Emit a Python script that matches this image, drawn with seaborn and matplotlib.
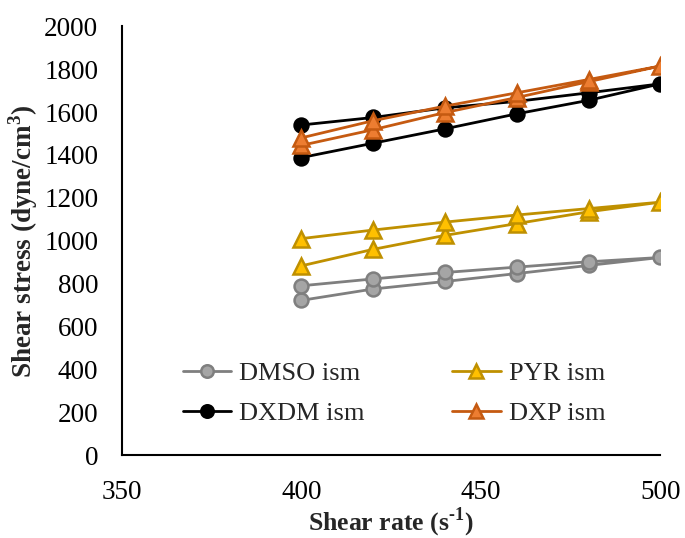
import matplotlib
matplotlib.use("Agg")
import matplotlib.pyplot as plt
import seaborn as sns
import pandas as pd

# Shear rate sweep: up from 400 to 500, then back down to 400
rate_up = [400, 420, 440, 460, 480, 500]
rate_down = [480, 460, 440, 420, 400]

dmso_up = [722, 775, 810, 847, 885, 922]
dmso_down = [902, 877, 852, 822, 790]

pyr_up = [883, 960, 1025, 1080, 1135, 1180]
pyr_down = [1150, 1120, 1087, 1050, 1010]

dxdm_up = [1388, 1455, 1522, 1592, 1655, 1732]
dxdm_down = [1690, 1650, 1620, 1575, 1540]

dxp_up = [1445, 1518, 1598, 1668, 1742, 1815]
dxp_down = [1752, 1690, 1628, 1560, 1480]

series_names = ["DMSO ism", "DXDM ism", "PYR ism", "DXP ism"]
series_up = [dmso_up, dxdm_up, pyr_up, dxp_up]
series_down = [dmso_down, dxdm_down, pyr_down, dxp_down]

styles = {
    "DMSO ism": dict(color="#7f7f7f", marker="o", mfc="#a5a5a5", mec="#7f7f7f", ms=10),
    "DXDM ism": dict(color="#000000", marker="o", mfc="#000000", mec="#000000", ms=10),
    "PYR ism": dict(color="#bf9000", marker="^", mfc="#ffc000", mec="#bf9000", ms=11),
    "DXP ism": dict(color="#c55a11", marker="^", mfc="#ed7d31", mec="#c55a11", ms=11),
}

sns.set_style("white")
plt.rcParams["font.family"] = ["Liberation Serif", "DejaVu Serif"]
plt.rcParams["mathtext.fontset"] = "custom"
plt.rcParams["mathtext.rm"] = "Liberation Serif"
plt.rcParams["mathtext.bf"] = "Liberation Serif:bold"

fig = plt.figure(figsize=(6.85, 5.38), dpi=100)
ax = fig.add_axes([0.178, 0.154, 0.786, 0.797])

frames = {}
for name, up, down in zip(series_names, series_up, series_down):
    frames[name] = pd.DataFrame({"rate": rate_up + rate_down, "stress": up + down})

# Draw so that the triangles sit on top of the circles
draw_order = ["DMSO ism", "PYR ism", "DXDM ism", "DXP ism"]
for name in draw_order:
    st = styles[name]
    sns.lineplot(data=frames[name], x="rate", y="stress", sort=False, estimator=None,
                 ax=ax, color=st["color"], lw=2, marker=st["marker"],
                 markersize=st["ms"], markerfacecolor=st["mfc"],
                 markeredgecolor=st["mec"], markeredgewidth=1.8, label=name, zorder=3)

h, l = ax.get_legend_handles_labels()
hmap = dict(zip(l, h))
ax.legend([hmap[n] for n in series_names], series_names, ncol=2, loc="lower left",
          bbox_to_anchor=(0.088, 0.04), frameon=False, fontsize=19,
          columnspacing=3.3, handlelength=1.85, handletextpad=0.3, labelspacing=0.62,
          borderpad=0, markerscale=0.9)

ax.set_xlim(350, 500)
ax.set_ylim(0, 2000)
ax.set_xticks([350, 400, 450, 500])
ax.set_yticks(range(0, 2001, 200))
ax.tick_params(direction="in", length=7, width=1.5, labelsize=19.5, colors="black")
ax.tick_params(axis="y", pad=17)
ax.tick_params(axis="x", pad=18)
for side in ["top", "right"]:
    ax.spines[side].set_visible(False)
for side in ["left", "bottom"]:
    ax.spines[side].set_color("black")
    ax.spines[side].set_linewidth(1.5)

ax.set_xlabel("Shear rate (s$^{\\mathbf{\u2010}\\mathbf{1}}$)", fontsize=18.5,
              fontweight="bold", labelpad=0)
ax.set_ylabel("Shear stress (dyne/cm$^{\\mathbf{3}}$)", fontsize=19.5,
              fontweight="bold", labelpad=3)

fig.savefig("out.png", dpi=100)
